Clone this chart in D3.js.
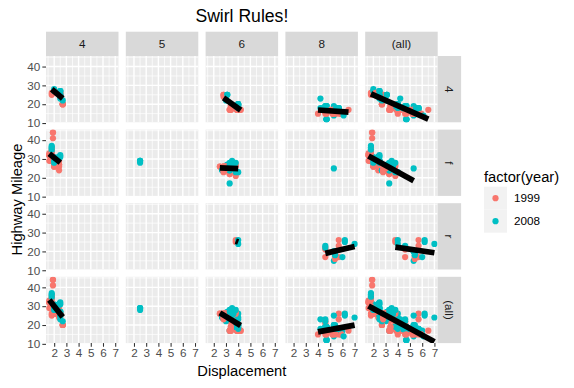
<!DOCTYPE html>
<html>
<head>
<meta charset="utf-8">
<script src="https://cdn.jsdelivr.net/npm/d3@7"></script>
<style>
  body { margin: 0; background: #fff; }
  text { font-family: "Liberation Sans", Arial, sans-serif; }
</style>
</head>
<body>
<div id="chart"></div>
<script>
// mpg data: displacement, highway mileage, year, cylinders, drive train
const displ = [
  1.8,1.8,2.0,2.0,2.8,2.8,3.1,
  1.8,1.8,2.0,2.0,2.8,2.8,3.1,3.1,2.8,3.1,4.2,
  5.3,5.3,5.3,5.7,6.0,5.7,5.7,6.2,6.2,7.0,
  5.3,5.3,5.7,6.5,
  2.4,2.4,3.1,3.5,3.6,
  2.4,3.0,3.3,3.3,3.3,3.3,3.3,3.8,3.8,3.8,4.0,
  3.7,3.7,3.9,3.9,4.7,4.7,4.7,5.2,5.2,
  3.9,4.7,4.7,4.7,5.2,5.7,5.9,
  4.7,4.7,4.7,4.7,4.7,5.2,5.2,5.7,5.9,
  4.6,5.4,5.4,
  4.0,4.0,4.0,4.0,4.6,5.0,
  4.2,4.2,4.6,4.6,4.6,5.4,5.4,
  3.8,3.8,4.0,4.0,4.6,4.6,4.6,4.6,5.4,
  1.6,1.6,1.6,1.6,1.6,1.8,1.8,1.8,2.0,
  2.4,2.4,2.4,2.4,2.5,2.5,3.3,
  2.0,2.0,2.0,2.0,2.7,2.7,2.7,
  3.0,3.7,4.0,4.7,4.7,4.7,5.7,6.1,
  4.0,4.2,4.4,4.6,
  5.4,5.4,5.4,
  4.0,4.0,4.6,5.0,
  2.4,2.4,2.5,2.5,3.5,3.5,3.0,3.0,3.5,
  3.3,3.3,4.0,5.6,
  3.1,3.8,3.8,3.8,5.3,
  2.5,2.5,2.5,2.5,2.5,2.5,2.2,2.2,2.5,2.5,2.5,2.5,2.5,2.5,
  2.7,2.7,3.4,3.4,4.0,4.7,
  2.2,2.2,2.4,2.4,3.0,3.0,3.5,
  2.2,2.2,2.4,2.4,3.0,3.0,3.3,
  1.8,1.8,1.8,1.8,1.8,
  4.7,5.7,
  2.7,2.7,2.7,3.4,3.4,4.0,4.0,
  2.0,2.0,2.0,2.0,2.8,
  1.9,2.0,2.0,2.0,2.0,2.5,2.5,2.8,2.8,
  1.9,1.9,2.0,2.0,2.5,2.5,
  1.8,1.8,2.0,2.0,2.8,2.8,3.6,3.6
];
const hwy = [
  29,29,31,30,26,26,27,
  26,25,28,27,25,25,25,25,24,25,23,
  20,15,20,17,17,26,23,26,25,24,
  19,14,15,17,
  27,30,26,29,26,
  24,24,22,22,24,24,17,22,21,23,23,
  19,18,17,17,19,19,12,17,15,
  17,17,12,17,16,18,15,
  16,12,17,17,16,17,15,17,15,
  17,17,18,
  17,19,17,19,19,17,
  17,17,16,16,17,15,17,
  26,25,26,24,21,22,23,22,20,
  33,32,32,29,32,34,36,36,29,
  26,27,30,31,26,26,28,
  26,29,28,27,24,24,24,
  22,19,20,17,12,19,18,14,
  15,18,18,15,
  17,16,18,
  17,19,19,17,
  29,27,31,32,27,26,26,25,25,
  17,17,20,18,
  26,26,27,28,25,
  25,24,27,25,26,23,26,26,26,26,25,27,25,27,
  20,20,19,17,20,17,
  29,27,31,31,26,26,28,
  27,29,31,31,26,26,27,
  30,33,35,37,35,
  15,18,
  20,20,22,17,19,18,20,
  29,26,29,29,24,
  44,29,26,29,29,29,29,23,24,
  44,41,29,26,28,29,
  29,29,28,29,26,26,26,26
];
const year = [
  1999,1999,2008,2008,1999,1999,2008,
  1999,1999,2008,2008,1999,1999,2008,2008,1999,2008,2008,
  2008,2008,2008,1999,2008,1999,1999,2008,2008,2008,
  2008,2008,1999,1999,
  1999,2008,1999,2008,2008,
  1999,1999,1999,1999,2008,2008,2008,1999,1999,2008,2008,
  2008,2008,1999,1999,2008,2008,2008,1999,1999,
  1999,2008,2008,2008,1999,2008,1999,
  2008,2008,2008,2008,2008,1999,1999,2008,1999,
  1999,1999,2008,
  1999,1999,1999,2008,2008,1999,
  1999,1999,1999,1999,2008,1999,2008,
  1999,1999,2008,2008,1999,1999,2008,2008,2008,
  1999,1999,1999,1999,1999,2008,2008,2008,2008,
  1999,1999,2008,2008,1999,1999,2008,
  1999,1999,2008,2008,2008,2008,2008,
  2008,2008,1999,1999,2008,2008,2008,2008,
  1999,2008,2008,1999,
  1999,1999,2008,
  1999,2008,2008,1999,
  1999,1999,2008,2008,2008,2008,1999,1999,2008,
  1999,1999,2008,2008,
  1999,1999,1999,2008,2008,
  1999,1999,2008,2008,2008,2008,1999,1999,1999,1999,2008,2008,2008,2008,
  1999,1999,1999,1999,2008,2008,
  1999,1999,2008,2008,1999,1999,2008,
  1999,1999,2008,2008,1999,1999,2008,
  1999,1999,1999,2008,2008,
  1999,2008,
  1999,1999,2008,1999,1999,2008,2008,
  1999,1999,2008,2008,1999,
  1999,1999,1999,2008,2008,2008,2008,1999,1999,
  1999,1999,1999,1999,2008,2008,
  1999,1999,2008,2008,1999,1999,2008,2008
];
const cyl = [
  4,4,4,4,6,6,6,
  4,4,4,4,6,6,6,6,6,6,8,
  8,8,8,8,8,8,8,8,8,8,
  8,8,8,8,
  4,4,6,6,6,
  4,6,6,6,6,6,6,6,6,6,6,
  6,6,6,6,8,8,8,8,8,
  6,8,8,8,8,8,8,
  8,8,8,8,8,8,8,8,8,
  8,8,8,
  6,6,6,6,8,8,
  6,6,8,8,8,8,8,
  6,6,6,6,8,8,8,8,8,
  4,4,4,4,4,4,4,4,4,
  4,4,4,4,6,6,6,
  4,4,4,4,6,6,6,
  6,6,6,8,8,8,8,8,
  8,8,8,8,
  8,8,8,
  6,6,8,8,
  4,4,4,4,6,6,6,6,6,
  6,6,6,8,
  6,6,6,6,8,
  4,4,4,4,4,4,4,4,4,4,4,4,4,4,
  4,4,6,6,6,8,
  4,4,4,4,6,6,6,
  4,4,4,4,6,6,6,
  4,4,4,4,4,
  8,8,
  4,4,4,6,6,6,6,
  4,4,4,4,6,
  4,4,4,4,4,5,5,6,6,
  4,4,4,4,5,5,
  4,4,4,4,6,6,6,6
];
const drv = [
  'f','f','f','f','f','f','f',
  '4','4','4','4','4','4','4','4','4','4','4',
  'r','r','r','r','r','r','r','r','r','r',
  '4','4','4','4',
  'f','f','f','f','f',
  'f','f','f','f','f','f','f','f','f','f','f',
  '4','4','4','4','4','4','4','4','4',
  '4','4','4','4','4','4','4',
  '4','4','4','4','4','4','4','4','4',
  'r','r','r',
  '4','4','4','4','4','4',
  '4','4','4','4','4','4','4',
  'r','r','r','r','r','r','r','r','r',
  'f','f','f','f','f','f','f','f','f',
  'f','f','f','f','f','f','f',
  'f','f','f','f','f','f','f',
  '4','4','4','4','4','4','4','4',
  '4','4','4','4',
  'r','r','r',
  '4','4','4','4',
  'f','f','f','f','f','f','f','f','f',
  '4','4','4','4',
  'f','f','f','f','f',
  '4','4','4','4','4','4','4','4','4','4','4','4','4','4',
  '4','4','4','4','4','4',
  'f','f','f','f','f','f','f',
  'f','f','f','f','f','f','f',
  'f','f','f','f','f',
  '4','4',
  '4','4','4','4','4','4','4',
  'f','f','f','f','f',
  'f','f','f','f','f','f','f','f','f',
  'f','f','f','f','f','f',
  'f','f','f','f','f','f','f','f'
];

const colLevels = ['4', '5', '6', '8', '(all)'];   // cyl
const rowLevels = ['4', 'f', 'r', '(all)'];         // drv
const yearLevels = [1999, 2008];
const xTicks = [2, 3, 4, 5, 6, 7];
const yTicks = [10, 20, 30, 40];

const width = 574, height = 388;
const panelX0 = 46, panelY0 = 56, panelW = 72.5, panelH = 66.3, gap = 7.3;
const stripH = 24.3, stripW = 23.4;
const colour = d3.scaleOrdinal(yearLevels, ['#F8766D', '#00BFC4']);

const rows = displ.map((d, i) => ({ displ: d, hwy: hwy[i], year: year[i], cyl: String(cyl[i]), drv: drv[i] }));

// shared scales, ggplot style 5% expansion
const xExt = d3.extent(displ), yExt = d3.extent(hwy);
const xPad = (xExt[1] - xExt[0]) * 0.05, yPad = (yExt[1] - yExt[0]) * 0.05;
const x = d3.scaleLinear([xExt[0] - xPad, xExt[1] + xPad], [0, panelW]);
const y = d3.scaleLinear([yExt[0] - yPad, yExt[1] + yPad], [panelH, 0]);

const svg = d3.select('#chart').append('svg')
    .attr('width', width).attr('height', height);

function fit(pts) {
    let n = pts.length;
    if (n < 2) return null;
    let mx = d3.mean(pts, d => d.displ), my = d3.mean(pts, d => d.hwy);
    let sxx = d3.sum(pts, d => (d.displ - mx) ** 2);
    if (sxx === 0) return null;
    let sxy = d3.sum(pts, d => (d.displ - mx) * (d.hwy - my));
    let b = sxy / sxx;
    let [x0, x1] = d3.extent(pts, d => d.displ);
    return [[x0, my + b * (x0 - mx)], [x1, my + b * (x1 - mx)]];
}

const xMinor = d3.range(1.5, 7.3, 1), yMinor = [15, 25, 35, 45];

function styleAxis(ax) {
    ax.select('.domain').remove();
    ax.selectAll('line').attr('stroke', '#333').attr('stroke-width', 1.07);
    ax.selectAll('text').attr('fill', '#4D4D4D').attr('font-size', '11.7px')
        .attr('font-family', '"Liberation Sans", Arial, sans-serif');
}

rowLevels.forEach((rv, j) => {
    colLevels.forEach((cv, i) => {
        let px = panelX0 + i * (panelW + gap), py = panelY0 + j * (panelH + gap);
        let g = svg.append('g').attr('transform', `translate(${px},${py})`);
        g.append('rect').attr('width', panelW).attr('height', panelH).attr('fill', '#EBEBEB');

        let clipId = `clip-${i}-${j}`;
        g.append('clipPath').attr('id', clipId)
            .append('rect').attr('width', panelW).attr('height', panelH);
        let inner = g.append('g').attr('clip-path', `url(#${clipId})`);

        // grid
        inner.selectAll('line.xmin').data(xMinor).join('line')
            .attr('x1', d => x(d)).attr('x2', d => x(d)).attr('y1', 0).attr('y2', panelH)
            .attr('stroke', '#fff').attr('stroke-width', 0.7);
        inner.selectAll('line.ymin').data(yMinor).join('line')
            .attr('y1', d => y(d)).attr('y2', d => y(d)).attr('x1', 0).attr('x2', panelW)
            .attr('stroke', '#fff').attr('stroke-width', 0.7);
        inner.selectAll('line.xmaj').data(xTicks).join('line')
            .attr('x1', d => x(d)).attr('x2', d => x(d)).attr('y1', 0).attr('y2', panelH)
            .attr('stroke', '#fff').attr('stroke-width', 1.4);
        inner.selectAll('line.ymaj').data(yTicks).join('line')
            .attr('y1', d => y(d)).attr('y2', d => y(d)).attr('x1', 0).attr('x2', panelW)
            .attr('stroke', '#fff').attr('stroke-width', 1.4);

        let pts = rows.filter(d => (cv === '(all)' || d.cyl === cv) && (rv === '(all)' || d.drv === rv));

        inner.selectAll('circle').data(pts).join('circle')
            .attr('cx', d => x(d.displ)).attr('cy', d => y(d.hwy)).attr('r', 3.1)
            .attr('fill', d => colour(d.year));

        let seg = fit(pts);
        if (seg) {
            inner.append('path')
                .attr('d', d3.line().x(d => x(d[0])).y(d => y(d[1]))(seg))
                .attr('stroke', '#000').attr('stroke-width', 5.7).attr('fill', 'none');
        }

        // axes
        if (i === 0) {
            g.append('g')
                .call(d3.axisLeft(y).tickValues(yTicks).tickFormat(d3.format('d')).tickSize(3.67).tickPadding(2.2))
                .call(styleAxis);
        }
        if (j === rowLevels.length - 1) {
            g.append('g').attr('transform', `translate(0,${panelH})`)
                .call(d3.axisBottom(x).tickValues(xTicks).tickFormat(d3.format('d')).tickSize(3.67).tickPadding(2.2))
                .call(styleAxis);
        }
    });
});

// column strips
colLevels.forEach((cv, i) => {
    let px = panelX0 + i * (panelW + gap);
    svg.append('rect').attr('x', px).attr('y', panelY0 - stripH)
        .attr('width', panelW).attr('height', stripH).attr('fill', '#D9D9D9');
    svg.append('text').attr('x', px + panelW / 2).attr('y', panelY0 - stripH / 2)
        .attr('dy', '0.35em').attr('text-anchor', 'middle')
        .attr('font-size', '11.7px').attr('fill', '#1A1A1A').text(cv);
});

// row strips
const stripX = panelX0 + colLevels.length * (panelW + gap) - gap;
rowLevels.forEach((rv, j) => {
    let py = panelY0 + j * (panelH + gap);
    svg.append('rect').attr('x', stripX).attr('y', py)
        .attr('width', stripW).attr('height', panelH).attr('fill', '#D9D9D9');
    svg.append('text')
        .attr('transform', `translate(${stripX + stripW / 2},${py + panelH / 2})rotate(90)`)
        .attr('dy', '0.35em').attr('text-anchor', 'middle')
        .attr('font-size', '11.7px').attr('fill', '#1A1A1A').text(rv);
});

// titles
const panelsMidX = panelX0 + (colLevels.length * (panelW + gap) - gap) / 2;
const panelsMidY = panelY0 + (rowLevels.length * (panelH + gap) - gap) / 2;
svg.append('text').attr('x', panelsMidX).attr('y', 21.5).attr('text-anchor', 'middle')
    .attr('font-size', '17.6px').attr('fill', '#000').text('Swirl Rules!');
svg.append('text').attr('x', panelsMidX).attr('y', 376).attr('text-anchor', 'middle')
    .attr('font-size', '14.7px').attr('fill', '#000').text('Displacement');
svg.append('text').attr('transform', `translate(21.5,${panelsMidY})rotate(-90)`)
    .attr('text-anchor', 'middle').attr('font-size', '14.7px').attr('fill', '#000')
    .text('Highway Mileage');

// legend
const legend = svg.append('g').attr('transform', 'translate(484,170)');
legend.append('text').attr('x', 0).attr('y', 11.7).attr('font-size', '14.7px')
    .attr('fill', '#000').text('factor(year)');
const keySize = 23;
yearLevels.forEach((yr, k) => {
    let ky = 16.7 + k * keySize;
    legend.append('rect').attr('x', 0).attr('y', ky).attr('width', keySize).attr('height', keySize)
        .attr('fill', '#F2F2F2');
    legend.append('circle').attr('cx', keySize / 2).attr('cy', ky + keySize / 2).attr('r', 3.1)
        .attr('fill', colour(yr));
    legend.append('text').attr('x', 30).attr('y', ky + keySize / 2).attr('dy', '0.35em')
        .attr('font-size', '11.7px').attr('fill', '#000').text(yr);
});
</script>
</body>
</html>
